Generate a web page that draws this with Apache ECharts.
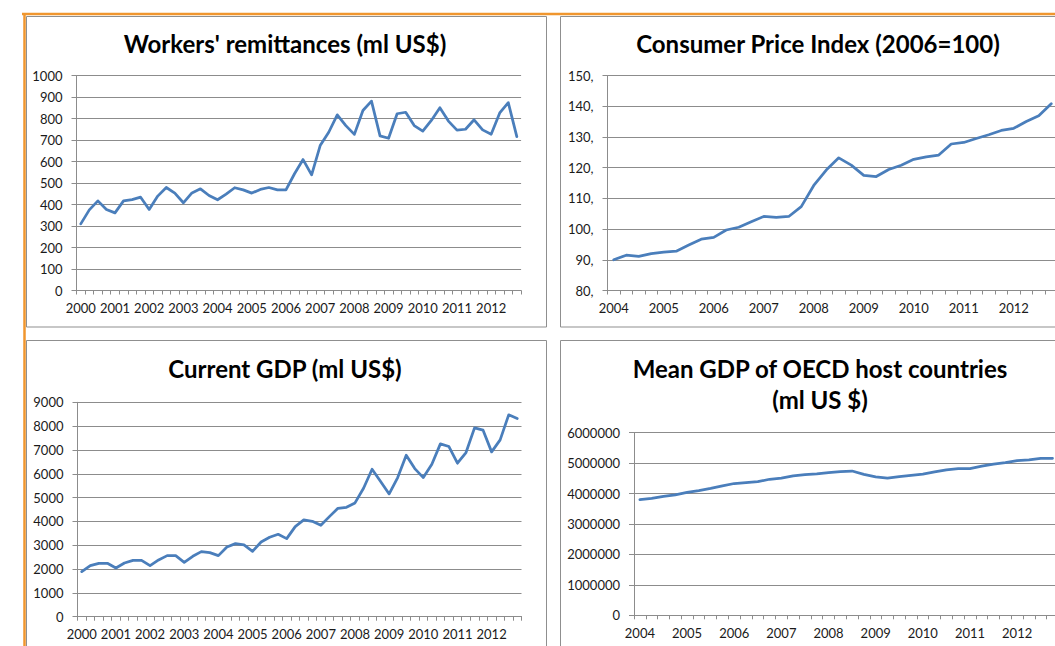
<!DOCTYPE html>
<html>
<head>
<meta charset="utf-8">
<title>Remittances, CPI and GDP</title>
<script src="https://cdn.jsdelivr.net/npm/echarts@6/dist/echarts.min.js"></script>
<style>
  html, body { margin: 0; padding: 0; background: #fff; overflow: hidden; }
  #chart { width: 1100px; height: 646px; }
</style>
</head>
<body>
<div id="chart"></div>
<script>
// years on the category axes (one point per quarter)
const yearsLong = [2000, 2001, 2002, 2003, 2004, 2005, 2006, 2007, 2008, 2009, 2010, 2011, 2012]
const yearsShort = [2004, 2005, 2006, 2007, 2008, 2009, 2010, 2011, 2012]

// workers' remittances, ml US$
const remittances = [310, 375, 417, 377, 361, 417, 423, 434, 377, 439, 479, 453, 408, 454, 473, 442,
  422, 448, 478, 468, 453, 470, 479, 468, 468, 543, 609, 538, 674, 736, 817, 767,
  726, 837, 881, 719, 708, 822, 829, 767, 741, 791, 850, 788, 746, 750, 794, 747,
  727, 826, 874, 716]

// consumer price index, 2006=100
const cpi = [90.0, 91.5, 91.1, 92.0, 92.5, 92.8, 94.8, 96.7, 97.3, 99.7, 100.6, 102.4,
  104.1, 103.8, 104.1, 107.3, 114.2, 119.2, 123.2, 120.8, 117.5, 117.1, 119.4, 120.8,
  122.7, 123.5, 124.1, 127.7, 128.2, 129.5, 130.7, 132.1, 132.8, 135.0, 136.9, 140.8]

// current GDP, ml US$
const gdp = [1891, 2143, 2241, 2241, 2045, 2255, 2367, 2367, 2143, 2381, 2563, 2563,
  2283, 2535, 2731, 2689, 2563, 2927, 3067, 3011, 2745, 3137, 3333, 3459,
  3277, 3782, 4062, 4006, 3838, 4202, 4552, 4594, 4776, 5392, 6190, 5672,
  5154, 5840, 6779, 6218, 5840, 6401, 7255, 7143, 6443, 6891, 7927, 7829,
  6919, 7423, 8473, 8319]

// mean GDP of OECD host countries, ml US $
const oecdGdp = [3800000, 3840000, 3910000, 3960000, 4040000, 4100000, 4170000, 4250000,
  4330000, 4360000, 4390000, 4470000, 4510000, 4580000, 4620000, 4650000,
  4690000, 4720000, 4740000, 4630000, 4550000, 4510000, 4560000, 4600000,
  4640000, 4710000, 4780000, 4820000, 4820000, 4900000, 4970000, 5020000,
  5080000, 5110000, 5160000, 5160000]

const AXIS_GREY = '#8c8c8c'
const BORDER_GREY = '#8f8f8f'
const LINE_BLUE = '#4a7ebb'
const ORANGE = '#f0962e'
const FONT = 'Lato, "Open Sans", sans-serif'

// 2000Q1, 2000Q2 ... label only shows the year
function quarters (years) {
  const out = []
  years.forEach(y => {
    for (let q = 1; q <= 4; q++) out.push(y + 'Q' + q)
  })
  return out
}

function xAxisFor (gridIndex, cats) {
  return {
    type: 'category',
    gridIndex: gridIndex,
    data: cats,
    boundaryGap: true,
    axisLine: { show: true, lineStyle: { color: AXIS_GREY, width: 1 } },
    axisTick: { show: true, interval: 0, length: 4, lineStyle: { color: AXIS_GREY } },
    axisLabel: {
      interval: 3,
      hideOverlap: false,
      margin: 11,
      fontFamily: FONT,
      fontSize: 13,
      color: '#1a1a1a',
      formatter: v => v.slice(0, 4)
    },
    splitLine: { show: false }
  }
}

function yAxisFor (gridIndex, min, max, step, fmt) {
  return {
    type: 'value',
    gridIndex: gridIndex,
    min: min,
    max: max,
    interval: step,
    axisLine: { show: true, lineStyle: { color: AXIS_GREY, width: 1 } },
    axisTick: { show: true, length: 5, lineStyle: { color: AXIS_GREY } },
    splitLine: { show: true, lineStyle: { color: AXIS_GREY, width: 1 } },
    axisLabel: {
      margin: 14,
      fontFamily: FONT,
      fontSize: 13,
      color: '#1a1a1a',
      formatter: fmt || (v => String(v))
    }
  }
}

function lineSeries (idx, data) {
  return {
    type: 'line',
    xAxisIndex: idx,
    yAxisIndex: idx,
    data: data,
    symbol: 'none',
    showSymbol: false,
    lineStyle: { color: LINE_BLUE, width: 2.75, join: 'round', cap: 'round' },
    itemStyle: { color: LINE_BLUE },
    emphasis: { disabled: true }
  }
}

function titleText (x, y, text) {
  return {
    type: 'text',
    silent: true,
    style: {
      x: x,
      y: y,
      text: text,
      textAlign: 'center',
      textVerticalAlign: 'middle',
      font: 'bold 24px ' + FONT,
      fill: '#000'
    }
  }
}

function panelBox (x, y, w, h) {
  return {
    type: 'rect',
    silent: true,
    shape: { x: x, y: y, width: w, height: h },
    style: { fill: 'none', stroke: BORDER_GREY, lineWidth: 1 }
  }
}

const chart = echarts.init(document.getElementById('chart'), null, { renderer: 'svg' })

const option = {
  animation: false,
  backgroundColor: '#fff',
  grid: [
    { left: 76.5, top: 75.5, width: 444.6, height: 215 },
    { left: 607.5, top: 75.5, width: 450, height: 215 },
    { left: 77.5, top: 402.3, width: 444, height: 214.4 },
    { left: 634, top: 432.7, width: 424.4, height: 182.6 }
  ],
  xAxis: [
    xAxisFor(0, quarters(yearsLong)),
    xAxisFor(1, quarters(yearsShort)),
    xAxisFor(2, quarters(yearsLong)),
    xAxisFor(3, quarters(yearsShort))
  ],
  yAxis: [
    yAxisFor(0, 0, 1000, 100),
    yAxisFor(1, 80, 150, 10, v => v + ','),
    yAxisFor(2, 0, 9000, 1000),
    yAxisFor(3, 0, 6000000, 1000000)
  ],
  series: [
    lineSeries(0, remittances),
    lineSeries(1, cpi),
    lineSeries(2, gdp),
    lineSeries(3, oecdGdp)
  ],
  graphic: [
    panelBox(26.5, 16.5, 520, 310.5),
    panelBox(560.5, 16.5, 520, 310.5),
    panelBox(26.5, 340.5, 520, 330),
    panelBox(560.5, 340.5, 520, 330),
    {
      type: 'line',
      silent: true,
      shape: { x1: 22, y1: 14, x2: 1100, y2: 14 },
      style: { stroke: ORANGE, lineWidth: 2.5 }
    },
    {
      type: 'line',
      silent: true,
      shape: { x1: 24.5, y1: 13, x2: 24.5, y2: 646 },
      style: { stroke: ORANGE, lineWidth: 2.5 }
    },
    titleText(285, 43, "Workers' remittances (ml US$)"),
    titleText(818, 43, 'Consumer Price Index (2006=100)'),
    titleText(285, 368, 'Current GDP (ml US$)'),
    titleText(820, 368, 'Mean GDP of OECD host countries'),
    titleText(820, 399, '(ml US $)')
  ]
}

chart.setOption(option)
</script>
</body>
</html>
